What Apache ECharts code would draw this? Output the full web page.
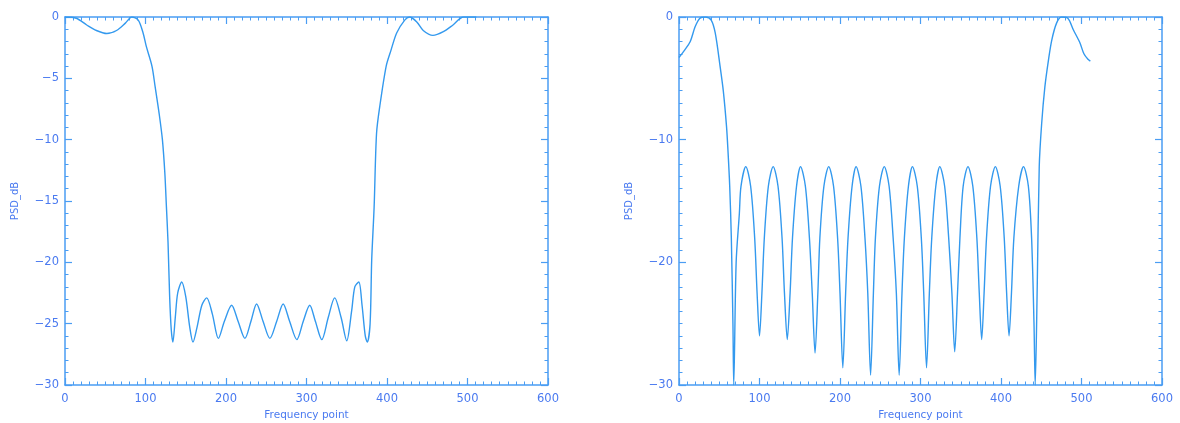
<!DOCTYPE html>
<html>
<head>
<meta charset="utf-8">
<script src="https://cdn.jsdelivr.net/npm/echarts@6/dist/echarts.min.js"></script>
<style>
html,body{margin:0;padding:0;background:#fff;}
#chart{width:1180px;height:423px;}
</style>
</head>
<body>
<div id="chart"></div>
<script>
// ---- Data ----
var xTickLabels = [0, 100, 200, 300, 400, 500, 600];
var leftYTicks = [0, -5, -10, -15, -20, -25, -30];
var rightYTicks = [0, -10, -20, -30];

var leftX = [0, 14, 27, 39, 52, 64, 75, 83, 91, 97, 101, 108, 112, 117, 121, 124, 126, 128, 130, 132, 134,
  137, 140, 145, 150, 155, 159, 164, 170, 176, 183, 190.5, 198, 207, 215, 223.5, 231, 238, 246, 254.5,
  263, 271, 279, 288, 296, 304, 311, 319, 327, 335, 343, 350, 356, 360, 365, 369, 373, 375.5, 379, 381,
  384, 387, 391, 399, 405, 412, 422, 428, 437, 445, 457, 470, 482, 495, 511];
var leftY = [0, -0.1, -0.65, -1.1, -1.35, -1.1, -0.5, 0, -0.25, -1.3, -2.4, -4.0, -5.7, -7.9, -10.0, -12.7, -15.5, -18.4, -22.8, -25.5, -26.5,
  -24.5, -22.5, -21.6, -22.8, -25.3, -26.5, -25.3, -23.5, -22.9, -24.2, -26.2, -24.8, -23.5, -24.8, -26.2, -24.8, -23.4, -24.8, -26.2,
  -24.8, -23.4, -24.8, -26.3, -24.8, -23.5, -24.8, -26.3, -24.5, -22.9, -24.5, -26.4, -24.0, -22.0, -21.6, -23.5, -26.0, -26.5, -25.0, -19.8,
  -15.5, -9.5, -7.3, -4.0, -2.7, -1.3, -0.25, 0, -0.4, -1.1, -1.5, -1.2, -0.65, 0, 0];

var rightX = [0, 7, 14, 20, 26, 33, 40, 45, 51, 55, 59, 61, 63, 65, 67, 68,
  71, 75, 77, 83, 89, 94, 97, 100, 103, 106, 111, 117, 123, 128, 131, 134.5, 138, 141, 146, 151,
  157, 162, 165.5, 169, 172.5, 175, 180, 186, 192, 197, 200, 203.5, 207, 210, 215, 220,
  226, 231, 234.5, 238, 241.5, 244, 249, 255, 261, 266, 270, 273.5, 277, 280, 285, 290,
  296, 301, 304, 307.5, 311, 314, 319, 324, 330, 335, 339, 342.5, 346, 349, 353, 359,
  365, 370, 373, 376, 379, 382, 387, 393, 399, 404, 407, 410, 413, 416, 422, 428,
  434, 438, 441, 442.5, 445, 447.5, 450.5, 454.5, 459, 463, 469, 475, 483, 490, 498, 503, 508, 511];
var rightY = [-3.3, -2.7, -2.0, -0.8, -0.1, 0, -0.25, -1.3, -4.0, -6.0, -8.9, -11.1, -13.8, -18, -25, -30,
  -20, -16, -13.8, -12.2, -13.8, -18, -22.5, -26, -22.5, -18, -13.8, -12.2, -13.8, -18, -22.5, -26.3, -22.5, -18, -13.8, -12.2,
  -13.8, -18, -22.5, -27.4, -22.5, -18, -13.8, -12.2, -13.8, -18, -22.5, -28.6, -22.5, -18, -13.8, -12.2,
  -13.8, -18, -22.5, -29.2, -22.5, -18, -13.8, -12.2, -13.8, -18, -22.5, -29.2, -22.5, -18, -13.8, -12.2,
  -13.8, -18, -22.5, -28.6, -22.5, -18, -13.8, -12.2, -13.8, -18, -22.5, -27.3, -22.5, -18, -13.8, -12.2,
  -13.8, -18, -22.5, -26.3, -22.5, -18, -13.8, -12.2, -13.8, -18, -22.5, -26, -22.5, -18, -13.8, -12.2,
  -13.8, -18, -25, -30, -22, -12.2, -8.7, -5.7, -3.5, -1.9, -0.5, 0, -0.1, -1.06, -2.1, -3.0, -3.45, -3.6];

// ---- Styling ----
var AXIS_COLOR = '#4a9df3';
var TEXT_COLOR = '#4a7af0';
var LINE_COLOR = '#3399ee';
var FONT = 'DejaVu Sans';

function zip(xs, ys) { return xs.map(function (x, i) { return [x, ys[i]]; }); }
function minusFmt(v) { return String(v).replace('-', '\u2212'); }

function xAxes(gi) {
  var base = {
    gridIndex: gi, type: 'value', min: xTickLabels[0], max: xTickLabels[xTickLabels.length - 1], interval: 100,
    axisLine: { show: true, onZero: false, lineStyle: { color: AXIS_COLOR, width: 1.5 } },
    axisTick: { show: true, inside: true, length: 7, lineStyle: { color: AXIS_COLOR, width: 1.2 } },
    minorTick: { show: true, splitNumber: 10, length: 3.5, lineStyle: { color: AXIS_COLOR, width: 1 } },
    splitLine: { show: false }, minorSplitLine: { show: false }
  };
  var bottom = Object.assign({}, base, {
    position: 'bottom',
    axisLabel: { show: true, color: TEXT_COLOR, fontFamily: FONT, fontSize: 11.5, margin: 8 },
    name: 'Frequency point', nameLocation: 'middle', nameGap: 25,
    nameTextStyle: { color: TEXT_COLOR, fontFamily: FONT, fontSize: 10.5 }
  });
  var top = Object.assign({}, base, { position: 'top', axisLabel: { show: false } });
  return [bottom, top];
}

function yAxes(gi, ticks, interval, minorSplit) {
  var base = {
    gridIndex: gi, type: 'value', min: ticks[ticks.length - 1], max: ticks[0], interval: interval,
    axisLine: { show: true, onZero: false, lineStyle: { color: AXIS_COLOR, width: 1.5 } },
    axisTick: { show: true, inside: true, length: 7, lineStyle: { color: AXIS_COLOR, width: 1.2 } },
    minorTick: { show: true, splitNumber: minorSplit, length: 3.5, lineStyle: { color: AXIS_COLOR, width: 1 } },
    splitLine: { show: false }, minorSplitLine: { show: false }
  };
  var left = Object.assign({}, base, {
    position: 'left',
    axisLabel: { show: true, color: TEXT_COLOR, fontFamily: FONT, fontSize: 11.5, margin: 6, formatter: minusFmt },
    name: 'PSD_dB', nameLocation: 'middle', nameGap: 45, nameRotate: 90,
    nameTextStyle: { color: TEXT_COLOR, fontFamily: FONT, fontSize: 10 }
  });
  var right = Object.assign({}, base, { position: 'right', axisLabel: { show: false } });
  return [left, right];
}

var chart = echarts.init(document.getElementById('chart'), null, { renderer: 'canvas' });
var xs = xAxes(0).concat(xAxes(1));
var ys = yAxes(0, leftYTicks, 5, 5).concat(yAxes(1, rightYTicks, 10, 10));

chart.setOption({
  animation: false,
  backgroundColor: '#ffffff',
  grid: [
    { left: 65, top: 17, width: 483, height: 368, outerBoundsMode: 'none', containLabel: false },
    { left: 679, top: 17, width: 483, height: 368, outerBoundsMode: 'none', containLabel: false }
  ],
  xAxis: xs,
  yAxis: ys,
  series: [
    { type: 'line', xAxisIndex: 0, yAxisIndex: 0, data: zip(leftX, leftY), showSymbol: false, smooth: 0.3,
      lineStyle: { color: LINE_COLOR, width: 1.4 }, clip: true },
    { type: 'line', xAxisIndex: 2, yAxisIndex: 2, data: zip(rightX, rightY), showSymbol: false, smooth: 0.3,
      lineStyle: { color: LINE_COLOR, width: 1.4 }, clip: true }
  ]
});
</script>
</body>
</html>
